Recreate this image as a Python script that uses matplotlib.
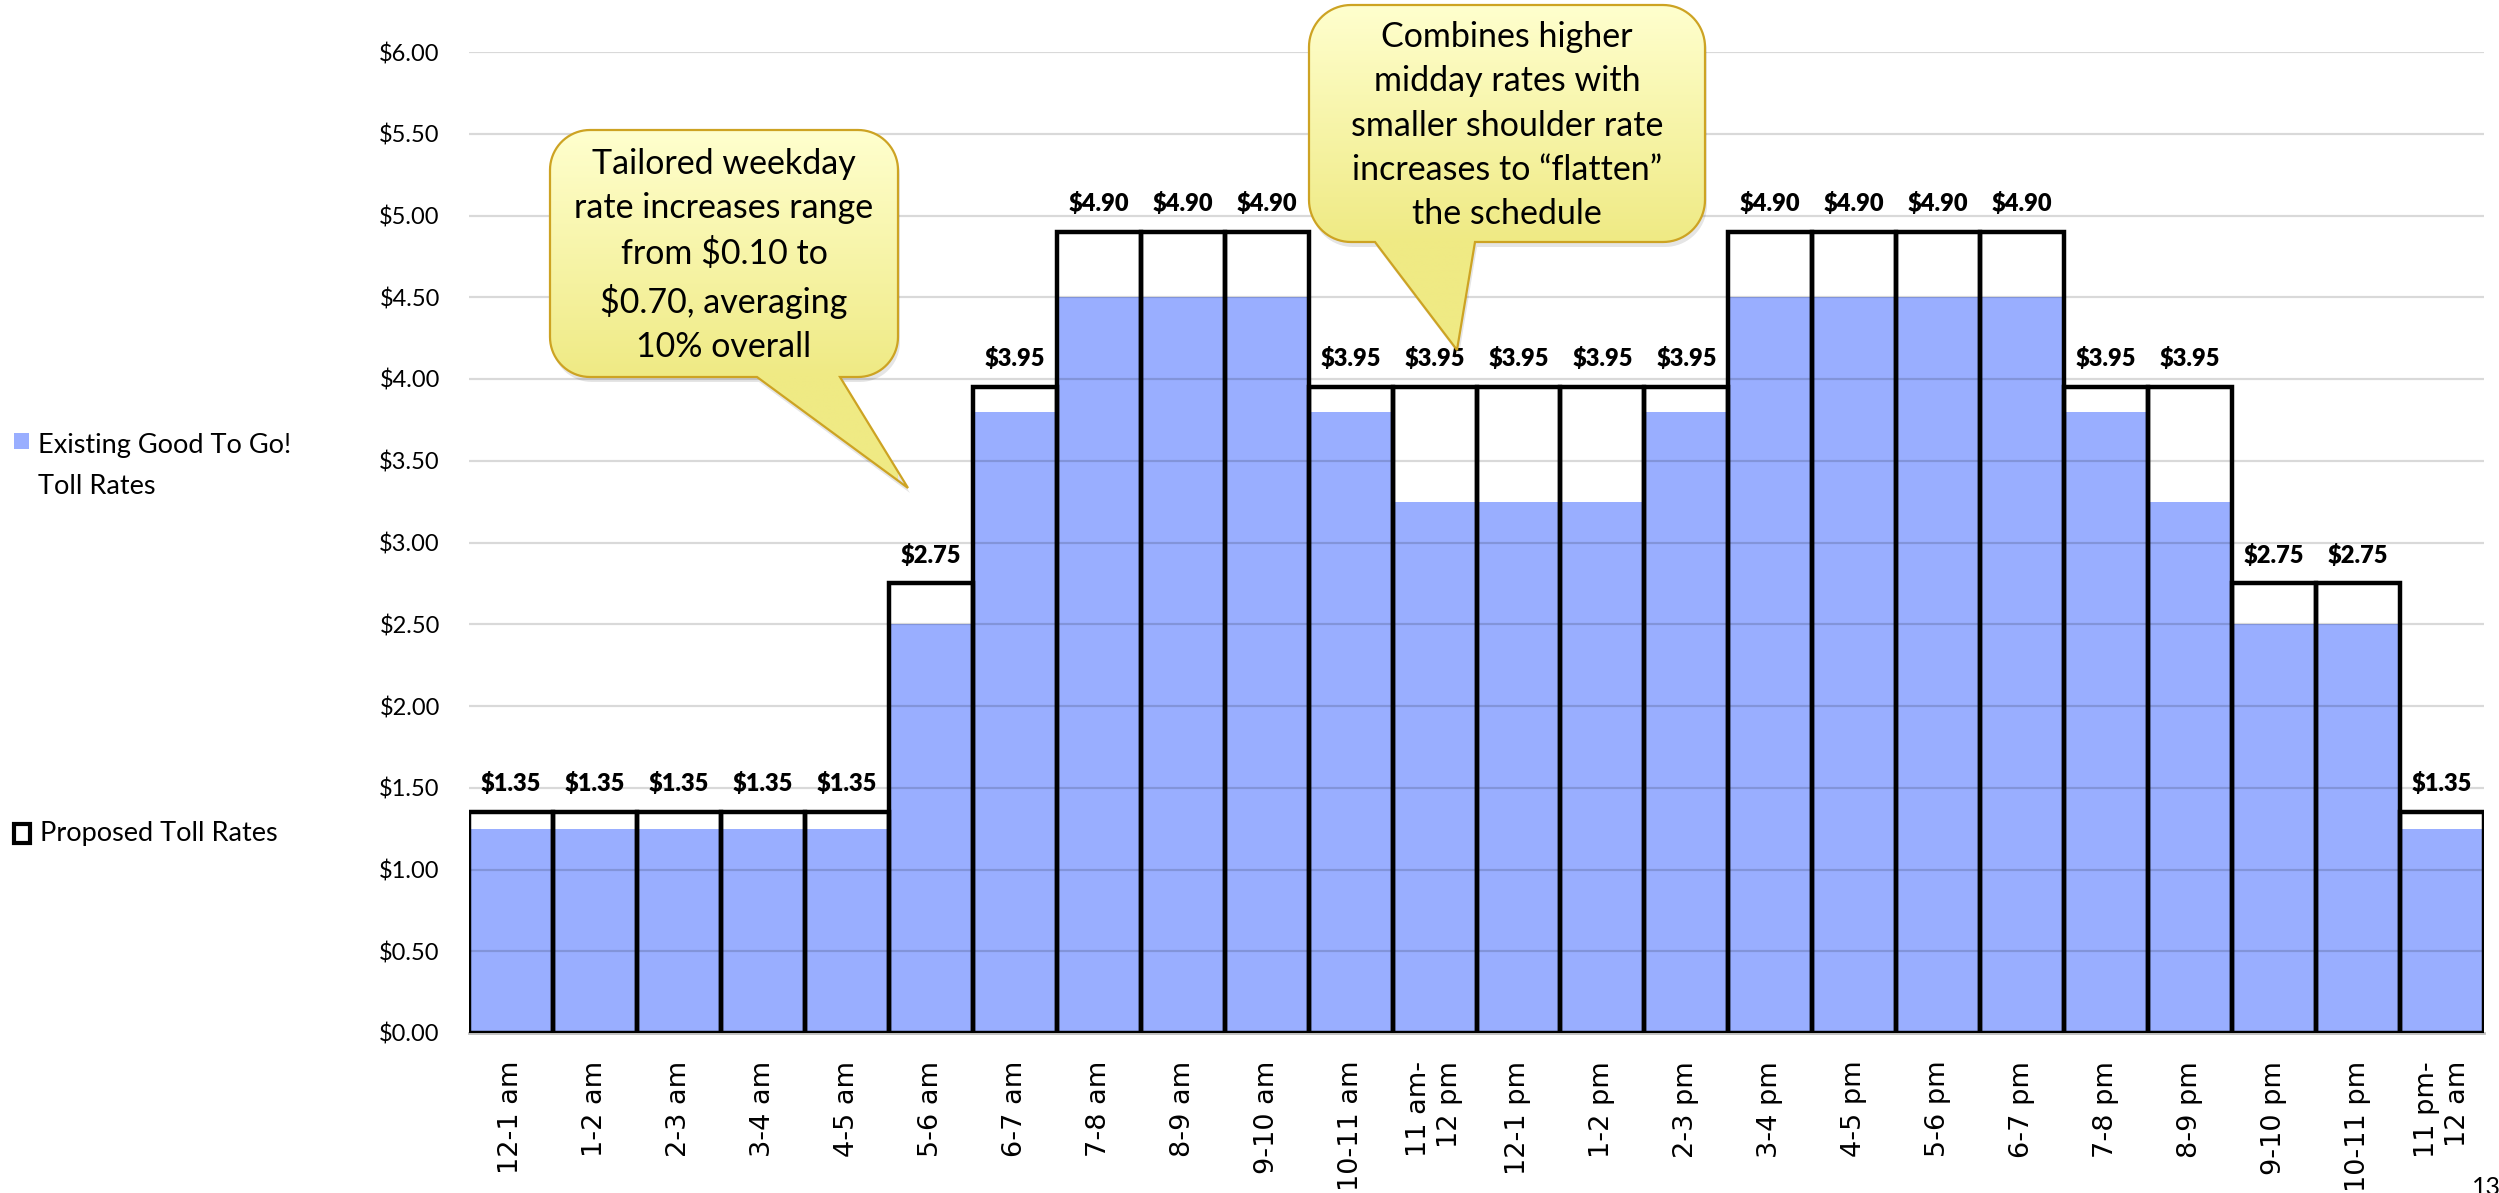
import numpy as np
import matplotlib
matplotlib.use("Agg")
import matplotlib.pyplot as plt
from matplotlib.path import Path
from matplotlib.patches import PathPatch, Rectangle
from matplotlib.colors import LinearSegmentedColormap

# ---------------- data ----------------
hours = ["12-1 am", "1-2 am", "2-3 am", "3-4 am", "4-5 am", "5-6 am", "6-7 am",
         "7-8 am", "8-9 am", "9-10 am", "10-11 am", "11 am-\n12 pm", "12-1 pm",
         "1-2 pm", "2-3 pm", "3-4 pm", "4-5 pm", "5-6 pm", "6-7 pm", "7-8 pm",
         "8-9 pm", "9-10 pm", "10-11 pm", "11 pm-\n12 am"]
existing = [1.25, 1.25, 1.25, 1.25, 1.25, 2.50, 3.80, 4.50, 4.50, 4.50, 3.80, 3.25,
            3.25, 3.25, 3.80, 4.50, 4.50, 4.50, 4.50, 3.80, 3.25, 2.50, 2.50, 1.25]
proposed = [1.35, 1.35, 1.35, 1.35, 1.35, 2.75, 3.95, 4.90, 4.90, 4.90, 3.95, 3.95,
            3.95, 3.95, 3.95, 4.90, 4.90, 4.90, 4.90, 3.95, 3.95, 2.75, 2.75, 1.35]
yticks = [0.0, 0.5, 1.0, 1.5, 2.0, 2.5, 3.0, 3.5, 4.0, 4.5, 5.0, 5.5, 6.0]
legend_existing = "Existing Good To Go!\nToll Rates"
legend_proposed = "Proposed Toll Rates"
callout1_text = "Tailored weekday\nrate increases range\nfrom $0.10 to\n$0.70, averaging\n10% overall"
callout2_text = "Combines higher\nmidday rates with\nsmaller shoulder rate\nincreases to \u201cflatten\u201d\nthe schedule"
page_number = "13"

# ---------------- style ----------------
W, H = 2499, 1193
BLUE = "#99AEFF"
FONT = "Lato"

fig = plt.figure(figsize=(W / 100, H / 100), dpi=100)
fig.patch.set_facecolor("white")

ax = fig.add_axes([469 / W, 1 - 1033 / H, (2484 - 469) / W, (1033 - 52) / H])
x = np.arange(len(hours))
ax.bar(x, existing, width=1.0, color=BLUE, linewidth=0, zorder=1)
ax.set_axisbelow(False)
ax.grid(axis="y", color="black", alpha=0.15, linewidth=1.6)
ax.grid(axis="x", visible=False)
ax.bar(x, proposed, width=1.0, fill=False, edgecolor="black", linewidth=3.2, zorder=3)

for i, v in enumerate(proposed):
    ax.annotate(f"${v:.2f}", (x[i], v), xytext=(0, 15), textcoords="offset points",
                ha="center", va="baseline", fontsize=17, fontweight="heavy",
                family=FONT, zorder=4)

ax.set_xlim(-0.5, len(hours) - 0.5)
ax.set_ylim(0, 6)
ax.set_yticks(yticks)
ax.set_yticklabels([f"${v:.2f}" for v in yticks], fontsize=17, family=FONT)
ax.set_xticks(x)
ax.set_xticklabels(hours, rotation=90, fontsize=19.5, family="DejaVu Sans",
                   multialignment="right", linespacing=1.25)
ax.tick_params(axis="both", length=0)
ax.tick_params(axis="y", pad=21)
ax.tick_params(axis="x", pad=20)
for s in ["left", "right", "top"]:
    ax.spines[s].set_visible(False)
ax.spines["bottom"].set_color("#BFBFBF")
ax.spines["bottom"].set_linewidth(2)

# ---------------- overlay (pixel coords) ----------------
ov = fig.add_axes([0, 0, 1, 1], zorder=10)
ov.set_xlim(0, W)
ov.set_ylim(H, 0)
ov.axis("off")
ov.patch.set_visible(False)


def callout_path(x0, y0, x1, y1, r, bl, br, tip):
    def arc(cx, cy, a0, a1):
        t = np.radians(np.linspace(a0, a1, 20))
        return list(zip(cx + r * np.cos(t), cy + r * np.sin(t)))
    v = [(x0 + r, y0), (x1 - r, y0)]
    v += arc(x1 - r, y0 + r, -90, 0)
    v += [(x1, y1 - r)]
    v += arc(x1 - r, y1 - r, 0, 90)
    v += [(br, y1), tip, (bl, y1), (x0 + r, y1)]
    v += arc(x0 + r, y1 - r, 90, 180)
    v += [(x0, y0 + r)]
    v += arc(x0 + r, y0 + r, 180, 270)
    v += [(x0 + r, y0)]
    codes = [Path.MOVETO] + [Path.LINETO] * (len(v) - 2) + [Path.CLOSEPOLY]
    return Path(v, codes)


cmap = LinearSegmentedColormap.from_list("cy", ["#FFFFCE", "#EFEA84"])


def callout(x0, y0, x1, y1, r, bl, br, tip, text, fs):
    p = callout_path(x0, y0, x1, y1, r, bl, br, tip)
    sh = Path(p.vertices + np.array([2, 5]), p.codes)
    ov.add_patch(PathPatch(sh, facecolor="black", alpha=0.10, linewidth=0, zorder=-1))
    patch = PathPatch(p, facecolor="none", edgecolor="#CDA323", linewidth=1.6, zorder=2)
    ybot = max(y1, tip[1])
    n = 300
    ys = np.linspace(y0, ybot, n)
    vals = np.clip((ys - y0) / (y1 - y0), 0, 1)[:, None]
    im = ov.imshow(vals, extent=[x0, x1, ybot, y0], cmap=cmap, vmin=0, vmax=1,
                   aspect="auto", origin="upper", interpolation="bilinear", zorder=0)
    ov.add_patch(patch)
    im.set_clip_path(patch)
    ov.text((x0 + x1) / 2, (y0 + y1) / 2 + 2, text, ha="center", va="center",
            fontsize=fs, family=FONT, linespacing=1.47, zorder=3)


callout(550, 130, 898, 377, 40, 757, 840, (908, 488), callout1_text, 24.5)
callout(1309, 5, 1705, 242, 42, 1375, 1475, (1457, 350), callout2_text, 24.5)
ov.set_xlim(0, W)
ov.set_ylim(H, 0)

# legend
ov.add_patch(Rectangle((14, 433), 15, 16, facecolor=BLUE, edgecolor="none"))
ov.text(38, 466, legend_existing, ha="left", va="center", fontsize=19.5,
        family=FONT, linespacing=1.75)
ov.add_patch(Rectangle((14, 824), 16, 19, facecolor="white", edgecolor="black",
                       linewidth=3))
ov.text(40, 833, legend_proposed, ha="left", va="center", fontsize=19.5, family=FONT)

ov.text(2472, 1176, page_number, ha="left", va="top", fontsize=18, family=FONT)

fig.savefig("out.png", dpi=100, facecolor="white")
